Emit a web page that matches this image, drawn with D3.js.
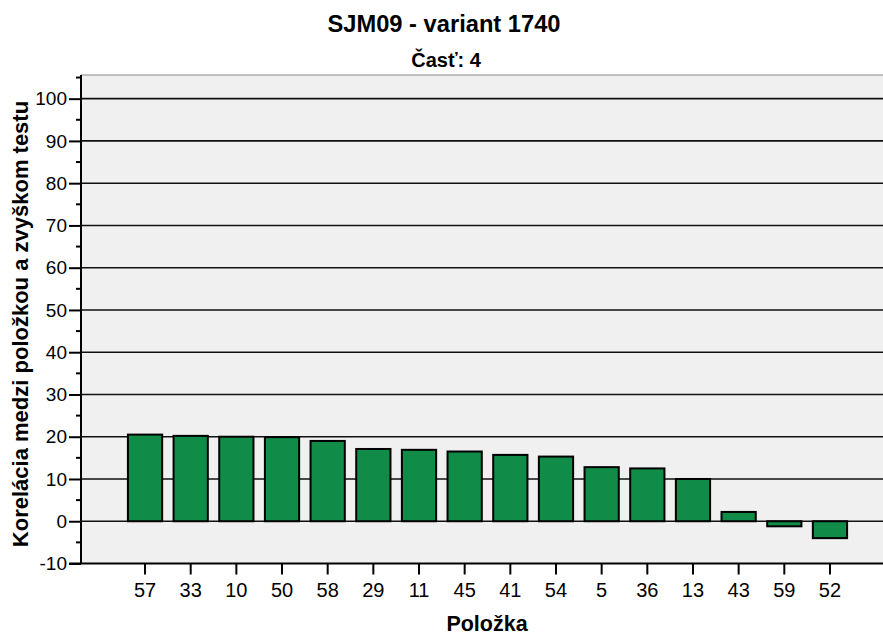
<!DOCTYPE html>
<html>
<head>
    <meta charset="utf-8">
    <title>SJM09 - variant 1740</title>
    <script src="https://d3js.org/d3.v7.min.js"></script>
    <style>
        body { margin: 0; background: #fff; }
        text { font-family: "Liberation Sans", Arial, sans-serif; fill: #000; }
        .title { font-weight: bold; }
    </style>
</head>
<body>
    <div id="chart"></div>

    <script>
        // polozky (poradie ako v grafe) a korelacie
        const items = ["57", "33", "10", "50", "58", "29", "11", "45", "41", "54", "5", "36", "13", "43", "59", "52"];
        const values = [20.5, 20.2, 20.0, 19.9, 19.0, 17.1, 16.9, 16.5, 15.7, 15.3, 12.8, 12.5, 10.0, 2.2, -1.2, -4.0];
        const yTicks = [-10, 0, 10, 20, 30, 40, 50, 60, 70, 80, 90, 100];
        const yMinor = [-5, 5, 15, 25, 35, 45, 55, 65, 75, 85, 95, 105];

        const W = 883, H = 635;
        const plot = {left: 81, right: 883, top: 75, bottom: 563.5};

        const svg = d3.select("#chart").append("svg")
            .attr("width", W)
            .attr("height", H);

        const x = d3.scaleBand()
            .domain(items)
            .range([122.2, 852.8])
            .paddingInner(0.25)
            .paddingOuter(0.125);

        const y = d3.scaleLinear()
            .domain([-10, 105.6])
            .range([plot.bottom, plot.top]);

        // plot background
        svg.append("rect")
            .attr("x", plot.left)
            .attr("y", plot.top)
            .attr("width", plot.right - plot.left)
            .attr("height", plot.bottom - plot.top)
            .attr("fill", "#f0f0f0");

        svg.append("line")
            .attr("x1", plot.left).attr("x2", plot.right)
            .attr("y1", plot.top).attr("y2", plot.top)
            .attr("stroke", "#888").attr("stroke-width", 1);

        // gridlines
        svg.append("g")
            .selectAll("line")
            .data(yTicks.filter(d => d > -10))
            .enter().append("line")
            .attr("x1", plot.left).attr("x2", plot.right)
            .attr("y1", d => y(d)).attr("y2", d => y(d))
            .attr("stroke", "#111")
            .attr("stroke-width", 1.6);

        // bars
        svg.append("g")
            .selectAll("rect")
            .data(values)
            .enter().append("rect")
            .attr("x", (d, i) => x(items[i]))
            .attr("y", d => y(Math.max(0, d)))
            .attr("width", x.bandwidth())
            .attr("height", d => Math.abs(y(d) - y(0)))
            .attr("fill", "#108c48")
            .attr("stroke", "#000")
            .attr("stroke-width", 2);

        // y axis
        const yAxis = svg.append("g")
            .attr("transform", "translate(" + plot.left + ",0)")
            .call(d3.axisLeft(y).tickValues(yTicks).tickFormat(d => String(d)).tickSize(12).tickPadding(2));
        yAxis.select(".domain").attr("stroke", "#000").attr("stroke-width", 2)
            .attr("d", "M0," + plot.top + "V" + plot.bottom);
        yAxis.selectAll(".tick line").attr("stroke", "#000").attr("stroke-width", 2);
        yAxis.selectAll(".tick text")
            .attr("font-size", "19px")
            .style("font-family", "'Liberation Sans', Arial, sans-serif")
            .attr("fill", "#000");

        svg.append("g")
            .selectAll("line")
            .data(yMinor)
            .enter().append("line")
            .attr("x1", plot.left - 5).attr("x2", plot.left)
            .attr("y1", d => y(d)).attr("y2", d => y(d))
            .attr("stroke", "#000").attr("stroke-width", 2);

        // x axis
        const xAxis = svg.append("g")
            .attr("transform", "translate(0," + plot.bottom + ")")
            .call(d3.axisBottom(x).tickSize(11).tickPadding(8));
        xAxis.select(".domain").attr("stroke", "#000").attr("stroke-width", 2)
            .attr("d", "M" + (plot.left - 12) + ",0H" + plot.right);
        xAxis.selectAll(".tick line").attr("stroke", "#000").attr("stroke-width", 2);
        xAxis.selectAll(".tick text")
            .attr("font-size", "20px")
            .style("font-family", "'Liberation Sans', Arial, sans-serif")
            .attr("fill", "#000");

        // titles
        svg.append("text")
            .attr("class", "title")
            .attr("x", 444).attr("y", 32)
            .attr("text-anchor", "middle")
            .attr("font-size", "23.7px")
            .text("SJM09 - variant 1740");

        svg.append("text")
            .attr("class", "title")
            .attr("x", 446).attr("y", 67)
            .attr("text-anchor", "middle")
            .attr("font-size", "20px")
            .text("Časť: 4");

        svg.append("text")
            .attr("class", "title")
            .attr("x", 487).attr("y", 631)
            .attr("text-anchor", "middle")
            .attr("font-size", "21.5px")
            .text("Položka");

        svg.append("text")
            .attr("class", "title")
            .attr("transform", "translate(28,324) rotate(-90)")
            .attr("text-anchor", "middle")
            .attr("font-size", "22px")
            .text("Korelácia medzi položkou a zvyškom testu");
    </script>
</body>
</html>
